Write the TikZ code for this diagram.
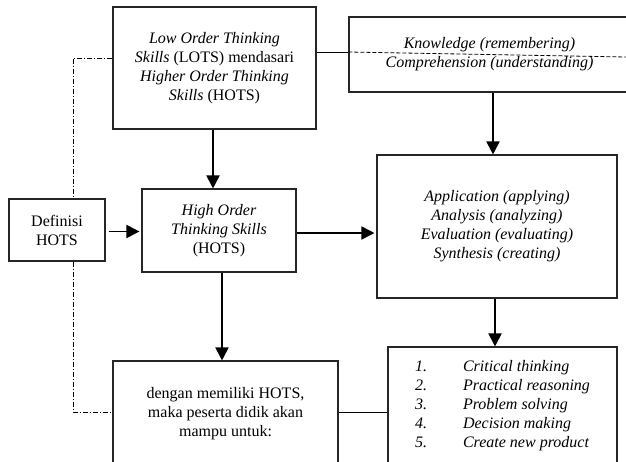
\documentclass[tikz,border=0pt]{standalone}
\usepackage{fontspec}
\setmainfont{Liberation Serif}
\usetikzlibrary{arrows.meta}
\begin{document}
\begin{tikzpicture}[x=1pt,y=-1pt,
  box/.style={draw=black!85,line width=1.1pt,align=center,inner sep=0pt,
    font=\fontsize{16}{19}\selectfont},
  arr/.style={line width=1.9pt,-{Triangle[length=13pt,width=13pt]}},
  thin/.style={line width=0.8pt},
  dashdot/.style={line width=0.8pt,dash pattern=on 5pt off 2pt on 1pt off 2pt}]
\useasboundingbox (0,0) rectangle (626,461);
\clip (0,0) rectangle (626,461);
\node[box,minimum width=203pt,minimum height=122pt] (A) at (214.5,68)
  {\textit{Low Order Thinking}\\\textit{Skills} (LOTS) mendasari\\\textit{Higher Order Thinking}\\\textit{Skills} (HOTS)};
\node[box,minimum width=281pt,minimum height=75pt] (K) at (489.5,54.5)
  {\textit{Knowledge (remembering)}\\\textit{Comprehension (understanding)}};
\node[box,minimum width=96pt,minimum height=62pt] (Def) at (57,230)
  {Definisi\\HOTS};
\node[box,minimum width=154pt,minimum height=83pt] (H) at (219,230.5)
  {\textit{High Order}\\\textit{Thinking Skills}\\(HOTS)};
\node[box,minimum width=240pt,minimum height=143pt] (App) at (497,226.5)
  {\textit{Application (applying)}\\\textit{Analysis (analyzing)}\\\textit{Evaluation (evaluating)}\\\textit{Synthesis (creating)}};
\node[box,minimum width=225pt,minimum height=106pt] (D) at (225.5,414)
  {dengan memiliki HOTS,\\maka peserta didik akan\\mampu untuk:};
\node[box,minimum width=229pt,minimum height=118pt,align=left] (C) at (502.5,406)
  {\itshape\makebox[48pt][l]{1.}Critical thinking\\
   \itshape\makebox[48pt][l]{2.}Practical reasoning\\
   \itshape\makebox[48pt][l]{3.}Problem solving\\
   \itshape\makebox[48pt][l]{4.}Decision making\\
   \itshape\makebox[48pt][l]{5.}Create new product};
% arrows
\draw[arr] ([xshift=-1.5pt]A.south) -- ([xshift=-1.5pt]A.south |- H.north);
\draw[arr,shorten <=3pt,shorten >=2pt] ([yshift=-1.5pt]Def.east) -- ([yshift=-1.5pt]Def.east -| H.west);
\draw[arr,shorten >=2pt] ([yshift=-2.5pt]H.east) -- ([yshift=-2.5pt]H.east -| App.west);
\draw[arr] ([xshift=3.5pt]K.south) -- ([xshift=3.5pt]K.south |- App.north);
\draw[arr] ([xshift=3pt]H.south) -- ([xshift=3pt]H.south |- D.north);
\draw[arr] ([xshift=-2pt]App.south) -- ([xshift=-2pt]App.south |- C.north);
% lines
\coordinate (kl) at ([yshift=2.5pt]K.west);
\draw[thin] (kl -| A.east) -- (kl);
\draw[thin,dash pattern=on 4pt off 2pt] (kl) -- (626,57);
\coordinate (dl) at (73,58);
\draw[dashdot] (dl -| A.west) -- (dl) -- (dl |- Def.north);
\draw[dashdot] (dl |- Def.south) -- (73,412) -- (73,412 -| D.west);
\draw[thin] (D.east |- 0,412) -- (C.west |- 0,412);
\end{tikzpicture}
\end{document}
